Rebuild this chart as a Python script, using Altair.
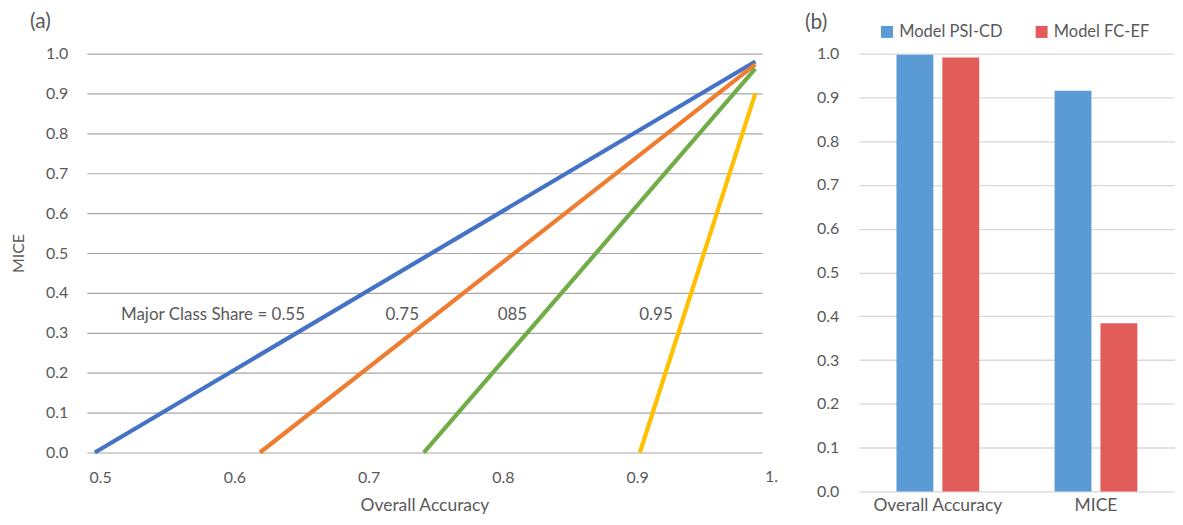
import altair as alt
import pandas as pd

# ---------- panel (a) data ----------
series = ["0.55", "0.75", "0.85", "0.95"]
oa_start = [0.496, 0.619, 0.741, 0.902]
oa_end = [0.988, 0.988, 0.988, 0.988]
mice_start = [0.0, 0.0, 0.0, 0.0]
mice_end = [0.980, 0.973, 0.962, 0.900]
line_colors = ["#4472C4", "#ED7D31", "#70AD47", "#FFC000"]

ann_text = ["Major Class Share = 0.55", "0.75", "085", "0.95"]
ann_x = [0.584, 0.725, 0.807, 0.914]
ann_y = [0.345, 0.345, 0.345, 0.345]

x_ticks = [0.5, 0.6, 0.7, 0.8, 0.9]
x_last_tick = [1.0]
x_last_label = ["1."]
y_ticks = [0.0, 0.1, 0.2, 0.3, 0.4, 0.5, 0.6, 0.7, 0.8, 0.9, 1.0]

# ---------- panel (b) data ----------
categories = ["Overall Accuracy", "MICE"]
models = ["Model PSI-CD", "Model FC-EF"]
psi_values = [0.997, 0.915]
fcef_values = [0.991, 0.384]
bar_colors = ["#5B9BD5", "#E25C59"]

FONT = "Lato"
TXT = "#595959"

rows = []
for i, s in enumerate(series):
    rows.append({"share": s, "oa": oa_start[i], "mice": mice_start[i], "k": 0})
    rows.append({"share": s, "oa": oa_end[i], "mice": mice_end[i], "k": 1})
line_df = pd.DataFrame(rows)
ann_df = pd.DataFrame({"t": ann_text, "x": ann_x, "y": ann_y})
last_df = pd.DataFrame({"t": x_last_label, "x": x_last_tick, "y": [0.0]})

xs = alt.Scale(domain=[0.49, 0.993], nice=False, zero=False)
ys = alt.Scale(domain=[0, 1], nice=False)

x_axis = alt.Axis(values=x_ticks, title="Overall Accuracy", format=".1f",
                  grid=False, ticks=False, domain=False,
                  labelFontSize=16, labelPadding=17, labelColor=TXT, labelFont=FONT,
                  titleFontSize=17.5, titleFont=FONT, titleColor=TXT,
                  titleFontWeight="normal", titlePadding=11)
y_axis = alt.Axis(values=y_ticks, format=".1f", title="MICE",
                  grid=True, gridColor="#a6a6a6", gridWidth=1.2,
                  ticks=False, domain=False, labelOverlap=False,
                  labelFontSize=16, labelPadding=19, labelColor=TXT, labelFont=FONT,
                  titleFontSize=16, titleFont=FONT, titleColor=TXT,
                  titleFontWeight="normal", titlePadding=19)

lines = alt.Chart(line_df).mark_line(strokeWidth=4.2, strokeCap="butt").encode(
    x=alt.X("oa:Q", scale=xs, axis=x_axis),
    y=alt.Y("mice:Q", scale=ys, axis=y_axis),
    color=alt.Color("share:N", scale=alt.Scale(domain=series, range=line_colors), legend=None),
    order="k:Q",
)

ann = alt.Chart(ann_df).mark_text(fontSize=17, font=FONT, color=TXT, baseline="middle", align="center").encode(
    x=alt.X("x:Q", scale=xs, axis=x_axis),
    y=alt.Y("y:Q", scale=ys, axis=y_axis),
    text="t:N",
)

last_lbl = alt.Chart(last_df).mark_text(fontSize=16, font=FONT, color=TXT, baseline="top",
                                         align="center", dy=17).encode(
    x=alt.X("x:Q", scale=xs, axis=x_axis),
    y=alt.Y("y:Q", scale=ys, axis=y_axis),
    text="t:N",
)

left = alt.layer(lines, ann, last_lbl).properties(
    width=677, height=400,
    title=alt.TitleParams("(a)", anchor="start", frame="group", dx=-57, offset=14,
                          fontSize=21, font=FONT, fontWeight="normal", color=TXT),
)

brows = []
for i, c in enumerate(categories):
    brows.append({"category": c, "model": models[0], "value": psi_values[i]})
    brows.append({"category": c, "model": models[1], "value": fcef_values[i]})
bar_df = pd.DataFrame(brows)

bars = alt.Chart(bar_df).mark_bar().encode(
    x=alt.X("category:N", sort=categories,
            scale=alt.Scale(paddingInner=0, paddingOuter=0),
            axis=alt.Axis(title=None, labelAngle=0, ticks=False, domain=False,
                          labelFontSize=17.5, labelFont=FONT, labelColor=TXT, labelPadding=5)),
    xOffset=alt.XOffset("model:N", sort=models,
                        scale=alt.Scale(paddingInner=0.196, paddingOuter=0.821)),
    y=alt.Y("value:Q", scale=alt.Scale(domain=[0, 1], nice=False),
            axis=alt.Axis(values=y_ticks, format=".1f", title=None,
                          grid=True, gridColor="#d9d9d9", gridWidth=1.3,
                          ticks=False, domain=False, labelOverlap=False,
                          labelFontSize=16, labelPadding=20, labelColor=TXT, labelFont=FONT)),
    color=alt.Color("model:N", sort=models,
                    scale=alt.Scale(domain=models, range=bar_colors),
                    legend=alt.Legend(orient="none", legendX=20, legendY=-30,
                                      direction="horizontal", title=None,
                                      symbolType="square", symbolSize=144,
                                      symbolStrokeWidth=0, labelFontSize=16.5,
                                      labelFont=FONT, labelColor=TXT,
                                      labelOffset=4, columnPadding=30, padding=0)),
).properties(
    width=317, height=439,
    title=alt.TitleParams("(b)", anchor="start", frame="group", dx=-54, offset=-9,
                          fontSize=21, font=FONT, fontWeight="normal", color=TXT),
)

chart = alt.hconcat(left, bars, spacing=97, bounds="flush").resolve_scale(
    color="independent"
).resolve_legend(
    color="independent"
).properties(
    padding={"left": 2, "top": 2, "right": 0, "bottom": 0}
).configure_view(stroke=None)

chart.save("out.html", embed_options={"renderer": "svg", "actions": False})
